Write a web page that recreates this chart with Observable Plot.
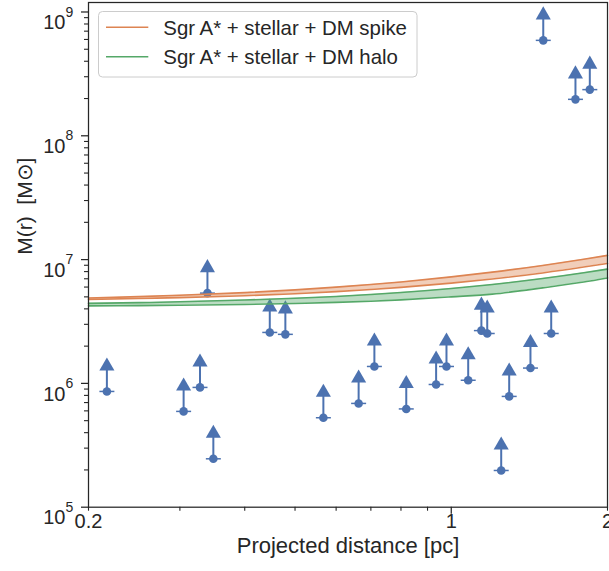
<!DOCTYPE html>
<html><head><meta charset="utf-8">
<script src="https://cdn.jsdelivr.net/npm/d3@7"></script>
<script src="https://cdn.jsdelivr.net/npm/@observablehq/plot@0.6"></script>
<style>
html,body{margin:0;padding:0;background:#fff;}
#chart{width:609px;height:571px;overflow:hidden;}
</style></head><body><div id="chart"></div>
<script>
// ---- data: lower limits on enclosed mass ----
const distPc = [0.217, 0.305, 0.328, 0.348, 0.339, 0.447, 0.479, 0.567, 0.663, 0.711, 0.819, 0.935, 0.979, 1.078, 1.143, 1.173, 1.293, 1.248, 1.421, 1.558, 1.504, 1.735, 1.849];
const massLowerLimit = [8.61e5, 5.94e5, 9.28e5, 2.46e5, 5.36e6, 2.58e6, 2.49e6, 5.28e5, 6.89e5, 1.37e6, 6.22e5, 9.8e5, 1.37e6, 1.06e6, 2.67e6, 2.53e6, 7.85e5, 1.98e5, 1.33e6, 2.53e6, 5.90e8, 1.97e8, 2.36e8];

// ---- model bands ----
const curveX = [0.2, 0.25, 0.3, 0.4, 0.5, 0.6, 0.7, 0.8, 1.0, 1.2, 1.5, 1.8, 2.0];
const spikeUpper = [4.90e6, 5.02e6, 5.15e6, 5.41e6, 5.69e6, 5.99e6, 6.29e6, 6.60e6, 7.25e6, 7.92e6, 8.97e6, 10.06e6, 10.81e6];
const spikeLower = [4.77e6, 4.85e6, 4.93e6, 5.11e6, 5.30e6, 5.51e6, 5.73e6, 5.96e6, 6.45e6, 6.97e6, 7.80e6, 8.70e6, 9.32e6];
const haloUpper  = [4.43e6, 4.49e6, 4.56e6, 4.71e6, 4.87e6, 5.04e6, 5.23e6, 5.42e6, 5.84e6, 6.30e6, 7.03e6, 7.82e6, 8.38e6];
const haloLower  = [4.23e6, 4.25e6, 4.28e6, 4.34e6, 4.42e6, 4.51e6, 4.61e6, 4.73e6, 5.00e6, 5.26e6, 5.91e6, 6.59e6, 7.11e6];

const seriesNames = ["Sgr A* + stellar + DM spike", "Sgr A* + stellar + DM halo"];

// ---- ticks ----
const xLabeledMinor = [0.2, 2];
const xMinorTicks = [0.2, 0.3, 0.4, 0.5, 0.6, 0.7, 0.8, 0.9, 2];
const xMajorTicks = [1];
const yMajorTicks = [1e5, 1e6, 1e7, 1e8, 1e9];
const yMinorTicks = [1e5, 1e6, 1e7, 1e8].flatMap(d => [2,3,4,5,6,7,8,9].map(k => k * d));

// ---- styling ----
const BLUE = "#4C72B0", ORANGE = "#DD8452", GREEN = "#55A868", INK = "#262626";
const ARROW = 1.601;   // triangle centre relative to point (marker offset)
const CAP = 1.0338;    // half-width of the horizontal bar

const pts = distPc.map((x, i) => ({x, y: massLowerLimit[i]}));
const band = curveX.map((x, i) => ({x, su: spikeUpper[i], sl: spikeLower[i], hu: haloUpper[i], hl: haloLower[i]}));

const svg = Plot.plot({
  width: 609, height: 571,
  marginLeft: 88, marginRight: 2, marginTop: 2, marginBottom: 64.3,
  style: {fontFamily: "'Liberation Sans', Arial, sans-serif", fontSize: "20px", color: INK, background: "white", overflow: "visible"},
  x: {type: "log", domain: [0.2, 2]},
  y: {type: "log", domain: [1e5, 1.193e9]},
  marks: [
    // points
    Plot.link(pts, {x1: "x", x2: "x", y1: "y", y2: d => d.y * ARROW, stroke: BLUE, strokeWidth: 2}),
    Plot.link(pts, {x1: d => d.x / CAP, x2: d => d.x * CAP, y1: "y", y2: "y", stroke: BLUE, strokeWidth: 1.5}),
    Plot.dot(pts, {x: "x", y: "y", r: 4.3, fill: BLUE, stroke: null}),
    Plot.dot(pts, {x: "x", y: d => d.y * ARROW, symbol: "triangle", r: 5.6, fill: BLUE, stroke: null}),
    // bands
    Plot.areaY(band, {x: "x", y1: "sl", y2: "su", fill: ORANGE, fillOpacity: 0.4, curve: "monotone-x"}),
    Plot.line(band, {x: "x", y: "su", stroke: ORANGE, strokeWidth: 1.6, curve: "monotone-x"}),
    Plot.line(band, {x: "x", y: "sl", stroke: ORANGE, strokeWidth: 1.6, curve: "monotone-x"}),
    Plot.areaY(band, {x: "x", y1: "hl", y2: "hu", fill: GREEN, fillOpacity: 0.4, curve: "monotone-x"}),
    Plot.line(band, {x: "x", y: "hu", stroke: GREEN, strokeWidth: 1.6, curve: "monotone-x"}),
    Plot.line(band, {x: "x", y: "hl", stroke: GREEN, strokeWidth: 1.6, curve: "monotone-x"}),
    // axes
    Plot.axisX({ticks: xMinorTicks, tickSize: 4, tickPadding: 2.3, strokeWidth: 1.1, label: null,
      tickFormat: d => xLabeledMinor.includes(d) ? String(d) : ""}),
    Plot.axisX({ticks: xMajorTicks, tickSize: 7, tickPadding: -0.7, strokeWidth: 1.25, label: null,
      tickFormat: d => String(d)}),
    Plot.axisY({ticks: yMinorTicks, tickSize: 4, strokeWidth: 1.1, label: null, tickFormat: () => ""}),
    Plot.axisY({ticks: yMajorTicks, tickSize: 7, tickPadding: 8.3, strokeWidth: 1.25, label: null,
      tickFormat: d => "E" + Math.round(Math.log10(d))}),
    Plot.frame({stroke: INK, strokeWidth: 1.25}),
    // axis titles
    Plot.text(["Projected distance [pc]"], {frameAnchor: "bottom", dy: 46, fontSize: 22, fill: INK}),
    Plot.text(["M(r)  [M⊙]"], {frameAnchor: "left", dx: -63, rotate: -90, fontSize: 21, fill: INK})
  ]
});

// superscript exponents on y tick labels
const NS = "http://www.w3.org/2000/svg";
svg.querySelectorAll("text").forEach(t => {
  const s = t.textContent;
  if (/^E\d+$/.test(s)) {
    t.textContent = "";
    t.removeAttribute("dy");
    const a = document.createElementNS(NS, "tspan");
    a.setAttribute("dy", "10.7"); a.textContent = "10";
    const b = document.createElementNS(NS, "tspan");
    b.setAttribute("dy", "-12.4"); b.setAttribute("font-size", "14"); b.textContent = s.slice(1);
    t.appendChild(a); t.appendChild(b);
  }
});

// legend
const colors = [ORANGE, GREEN];
const lg = d3.select(svg).append("g").attr("font-size", 20.4).attr("fill", INK).attr("text-anchor", "start");
lg.append("rect").attr("x", 98.5).attr("y", 11.5).attr("width", 318.5).attr("height", 65.5)
  .attr("rx", 4).attr("fill", "white").attr("fill-opacity", 0.8).attr("stroke", "#cccccc").attr("stroke-width", 1);
seriesNames.forEach((name, i) => {
  const cy = 27.3 + i * 29.4;
  lg.append("line").attr("x1", 106).attr("x2", 148.3).attr("y1", cy).attr("y2", cy)
    .attr("stroke", colors[i]).attr("stroke-width", 1.6);
  lg.append("text").attr("x", 163.3).attr("y", cy + 7.3).attr("text-anchor", "start").text(name);
});

document.getElementById("chart").appendChild(svg);
</script></body></html>
